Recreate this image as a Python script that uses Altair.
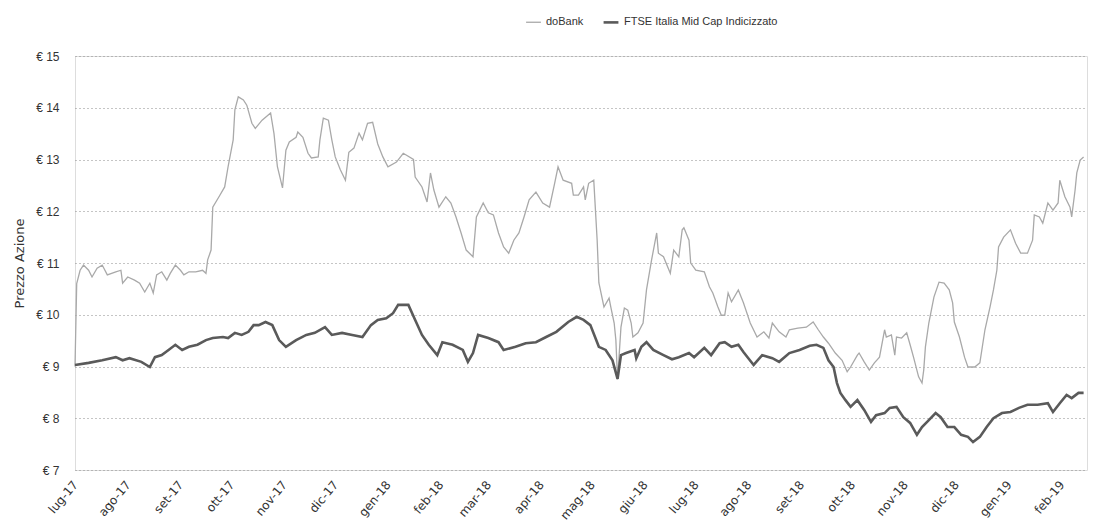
import altair as alt
import pandas as pd

START = "2017-07-13"

# doBank: day offset from start, price (EUR)
dobank_days = [0, 1, 3, 5, 8, 10, 13, 16, 19, 24, 27, 28, 31, 35, 38, 41, 44, 46, 48, 51, 54, 56, 59, 62, 64, 67, 71, 75, 77, 78, 80,
               81, 85, 88, 90, 93, 94, 96, 99, 101, 104, 106, 110, 115, 117, 119, 122, 124, 126, 130, 131, 134, 137, 139, 143, 144,
               146, 149, 151, 153, 156, 159, 161, 164, 167, 169, 172, 175, 178, 181, 184, 189, 193, 199, 200, 204, 207, 209, 211,
               214, 218, 221, 224, 227, 230, 234, 236, 240, 243, 246, 249, 252, 255, 258, 261, 264, 267, 271, 275, 279, 282, 284,
               287, 292, 293, 296, 299, 300, 302, 305, 306, 307, 308, 311, 314, 315, 317, 318, 319, 321, 323, 325, 327, 328, 331,
               334, 336, 339, 342, 343, 346, 350, 352, 355, 357, 358, 361, 362, 365, 370, 373, 375, 378, 380, 382, 384, 386, 390,
               393, 397, 401, 405, 408, 410, 414, 418, 420, 425, 430, 434, 437, 440, 443, 447, 451, 454, 456, 460, 461, 464, 467,
               470, 473, 476, 477, 480, 482, 483, 486, 489, 491, 493, 496, 498, 499, 500, 502, 505, 508, 511, 514, 516, 517, 520,
               523, 525, 529, 532, 535, 538, 540, 542, 543, 546, 550, 553, 556, 560, 563, 564, 567, 569, 572, 575, 578, 579, 582,
               585, 586, 588, 589, 591, 593]
dobank_vals = [9.0, 10.6, 10.86, 10.96, 10.86, 10.73, 10.9, 10.96, 10.77, 10.83, 10.86, 10.61, 10.73, 10.67, 10.61, 10.44, 10.61,
               10.42, 10.77, 10.83, 10.67, 10.8, 10.96, 10.86, 10.77, 10.83, 10.83, 10.86, 10.8, 11.06, 11.25,
               12.08, 12.3, 12.47, 12.86, 13.38, 13.96, 14.21, 14.15, 14.05, 13.7, 13.6, 13.76, 13.9, 13.5, 12.86, 12.45, 13.18,
               13.34, 13.43, 13.53, 13.43, 13.12, 13.03, 13.05, 13.38, 13.8, 13.76, 13.38, 13.05, 12.8, 12.6, 13.14, 13.22, 13.51,
               13.38, 13.7, 13.72, 13.3, 13.05, 12.86, 12.95, 13.12, 13.0, 12.66, 12.47, 12.18, 12.74, 12.41, 12.08, 12.28, 12.16,
               11.89, 11.58, 11.25, 11.12, 11.89, 12.16, 11.97, 11.93, 11.58, 11.31, 11.19, 11.44, 11.58, 11.89, 12.22, 12.37,
               12.16, 12.08, 12.54, 12.86, 12.6, 12.54, 12.31, 12.31, 12.47, 12.22, 12.54, 12.6, 12.02, 11.44, 10.62, 10.15, 10.32,
               10.15, 9.84, 9.51, 8.75, 9.76, 10.13, 10.09, 9.84, 9.57, 9.65, 9.84, 10.48, 11.06, 11.58, 11.19, 11.12, 10.8, 11.25,
               11.12, 11.64, 11.68, 11.44, 11.0, 10.86, 10.83, 10.54, 10.42, 10.15, 9.99, 9.99, 10.42, 10.25, 10.48, 10.23, 9.84,
               9.57, 9.67, 9.55, 9.84, 9.67, 9.57, 9.71, 9.74, 9.76, 9.86, 9.71, 9.57, 9.45, 9.26, 9.12, 8.9, 8.99, 9.22, 9.26,
               9.09, 8.93, 9.07, 9.18, 9.71, 9.57, 9.61, 9.22, 9.57, 9.55, 9.65, 9.42, 9.18, 8.8, 8.68, 8.93, 9.38, 9.84, 10.34,
               10.63, 10.61, 10.48, 10.23, 9.86, 9.57, 9.18, 8.99, 8.99, 9.07, 9.71, 10.15, 10.48, 10.86, 11.31, 11.5, 11.64,
               11.38, 11.19, 11.19, 11.44, 11.93, 11.89, 11.77, 12.16, 12.02, 12.16, 12.6, 12.28, 12.08, 11.89, 12.41, 12.74,
               12.99, 13.05]

# FTSE Italia Mid Cap, rebased to the doBank IPO price
ftse_days = [0, 8, 16, 24, 28, 32, 39, 44, 47, 51, 55, 59, 63, 67, 72, 77, 81, 87, 90, 94, 98, 102, 105, 108, 112, 116, 120, 124,
             130, 136, 141, 147, 151, 157, 163, 169, 174, 178, 183, 187, 190, 196, 200, 204, 208, 213, 216, 222, 228, 231, 234,
             237, 243, 249, 252, 259, 265, 271, 277, 283, 290, 295, 299, 303, 308, 312, 316, 319, 321, 324, 329, 330, 333, 336,
             340, 346, 351, 355, 361, 364, 370, 374, 379, 382, 386, 390, 393, 399, 404, 410, 414, 420, 426, 432, 436, 440, 443,
             446, 448, 450, 453, 456, 460, 464, 468, 471, 476, 479, 483, 487, 491, 495, 498, 501, 506, 509, 513, 517, 521, 525,
             528, 532, 536, 540, 545, 550, 555, 560, 566, 572, 575, 579, 583, 586, 590, 593]
ftse_vals = [9.03, 9.07, 9.12, 9.18, 9.12, 9.16, 9.09, 8.99, 9.18, 9.22, 9.32, 9.42, 9.32, 9.38, 9.42, 9.51, 9.55, 9.57, 9.55,
             9.65, 9.61, 9.67, 9.8, 9.8, 9.86, 9.8, 9.51, 9.38, 9.51, 9.61, 9.65, 9.76, 9.61, 9.65, 9.61, 9.57, 9.8, 9.9, 9.93,
             10.03, 10.19, 10.19, 9.9, 9.61, 9.42, 9.22, 9.47, 9.42, 9.32, 9.09, 9.26, 9.61, 9.55, 9.47, 9.32, 9.38, 9.45, 9.47,
             9.57, 9.67, 9.86, 9.96, 9.9, 9.8, 9.38, 9.32, 9.12, 8.76, 9.22, 9.26, 9.32, 9.16, 9.38, 9.47, 9.32, 9.22, 9.14,
             9.18, 9.26, 9.18, 9.36, 9.22, 9.45, 9.47, 9.38, 9.42, 9.28, 9.03, 9.22, 9.16, 9.09, 9.26, 9.32, 9.4, 9.42, 9.36,
             9.12, 8.99, 8.68, 8.49, 8.35, 8.22, 8.35, 8.16, 7.93, 8.06, 8.1, 8.2, 8.22, 8.02, 7.91, 7.68, 7.83, 7.93, 8.1, 8.02,
             7.83, 7.83, 7.68, 7.64, 7.54, 7.64, 7.83, 8.0, 8.1, 8.12, 8.2, 8.26, 8.26, 8.29, 8.12, 8.29, 8.45, 8.39, 8.49, 8.49]

series_names = ["doBank", "FTSE Italia Mid Cap Indicizzato"]
series_colors = ["#a9a9a9", "#5a5a5a"]

y_ticks = [7, 8, 9, 10, 11, 12, 13, 14, 15]
tick_months = [(2017, m) for m in range(7, 13)] + [(2018, m) for m in range(1, 13)] + [(2019, 1), (2019, 2)]


def to_dates(days):
    return (pd.Timestamp(START) + pd.to_timedelta(days, unit="D")).strftime("%Y-%m-%d")


df = pd.concat([
    pd.DataFrame({"data": to_dates(dobank_days), "valore": dobank_vals, "serie": series_names[0]}),
    pd.DataFrame({"data": to_dates(ftse_days), "valore": ftse_vals, "serie": series_names[1]}),
])

month_expr = "['gen','feb','mar','apr','mag','giu','lug','ago','set','ott','nov','dic'][utcmonth(datum.value)] + '-' + utcFormat(datum.value, '%y')"

x_values = [alt.DateTime(year=y, month=m, date=13, utc=True) for y, m in tick_months]

chart = alt.Chart(df).mark_line(interpolate="linear").encode(
    x=alt.X(
        "data:T",
        scale=alt.Scale(type="utc", domain=[alt.DateTime(year=2017, month=7, date=13, utc=True),
                                            alt.DateTime(year=2019, month=2, date=28, utc=True)]),
        axis=alt.Axis(values=x_values, labelExpr=month_expr, labelAngle=310, labelAlign="right",
                      labelBaseline="middle", grid=False, domain=False, ticks=False, labelPadding=12,
                      title=None, labelFontSize=12, labelColor="#333333", labelFont="DejaVu Sans",
                      labelOverlap=False, labelBound=False, labelFlush=False),
    ),
    y=alt.Y(
        "valore:Q",
        scale=alt.Scale(domain=[7, 15], nice=False, zero=False),
        axis=alt.Axis(values=y_ticks, labelExpr="'€ ' + datum.value", grid=True, gridDash=[1, 3],
                      gridColor="#8a8a8a", gridWidth=1, domain=False, ticks=False, labelPadding=16,
                      title="Prezzo Azione", titleFontWeight="normal", titleFontSize=13, titlePadding=9,
                      titleColor="#333333", labelFontSize=12, labelColor="#333333", labelFont="Liberation Sans",
                      titleFont="DejaVu Sans"),
    ),
    color=alt.Color(
        "serie:N",
        scale=alt.Scale(domain=series_names, range=series_colors),
        legend=alt.Legend(orient="none", legendX=450, legendY=-43, direction="horizontal", title=None,
                          symbolType="stroke", symbolStrokeWidth=3, symbolSize=220, labelFontSize=11,
                          labelColor="#333333", labelFont="Liberation Sans", columnPadding=14, labelLimit=0),
    ),
    strokeWidth=alt.StrokeWidth("serie:N", scale=alt.Scale(domain=series_names, range=[1.3, 2.6]), legend=None),
).properties(width=1012, height=414).configure_view(stroke=None).configure(background="white").configure_axisX(labelAngle=310)

chart.save("out.html", embed_options={"renderer": "svg", "actions": False})
